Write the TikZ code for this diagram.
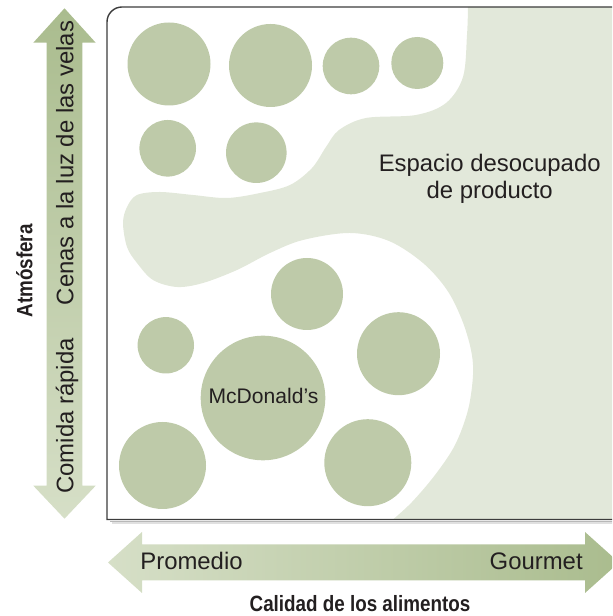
\documentclass[tikz,border=0pt]{standalone}
\usepackage{fontspec}
\setmainfont{Liberation Sans}
\newfontfamily\axisfont[FakeStretch=0.85]{Liberation Sans}
\usetikzlibrary{calc}

\definecolor{rivalgreen}{RGB}{190,202,169}
\definecolor{gapgreen}{RGB}{226,232,218}
\definecolor{arrowdark}{RGB}{170,188,142}
\definecolor{arrowlight}{RGB}{214,223,199}
\definecolor{inkgray}{RGB}{35,31,32}
\definecolor{framegray}{RGB}{60,60,60}

\begin{document}
\begin{tikzpicture}[scale=0.2,
  rival/.style={fill=rivalgreen},
  pole/.style={font=\fontsize{13.6}{15.1}\selectfont, text=inkgray, inner sep=0pt},
  axistitle/.style={font=\axisfont\bfseries\fontsize{12.6}{15}\selectfont, text=inkgray, inner sep=0pt}]
\useasboundingbox (0,0) rectangle (61.2,61.6);
\clip (0,0) rectangle (61.2,61.6);

\fill[gapgreen] plot[smooth, tension=0.55] coordinates {
  (46.8,60.9) (46.7,58.1) (46.3,53.9) (44.6,51.3) (41.6,50.1) (36.6,49.8)
  (33.9,48.6) (32.6,46.9) (31.2,44.8) (29.0,43.1) (26.0,42.3) (22.7,41.8)
  (19.3,42.1) (16.0,42.4) (13.7,42.1) (12.7,40.9) (12.3,39.3) (12.7,36.9)
  (13.7,35.3) (15.3,33.6) (17.7,32.9) (20.3,33.3) (23.7,34.6) (27.0,36.3)
  (30.3,37.6) (35.0,38.3) (38.9,37.5) (42.3,35.3) (44.7,32.6) (46.2,29.6)
  (47.1,26.6) (47.3,24.1) (46.8,20.6) (45.5,17.1) (43.5,14.1) (41.2,11.4)
  (39.3,9.65)} -- (62,9.65) -- (62,60.9) -- cycle;

\foreach \cx/\cy/\r in {16.9/55.2/4.15, 27.05/55.05/4.15, 35.1/55.0/2.83,
    41.73/55.3/2.6, 16.77/46.77/2.83, 25.63/46.33/3.03, 30.7/32.2/3.6,
    16.58/27.07/2.82, 16.25/15.05/4.35, 39.85/26.23/4.15, 36.78/15.33/4.35}
  \fill[rival] (\cx,\cy) circle (\r);
\fill[rival] (26.3,21.8) circle (6.23);

\draw[black!28, line width=1pt] (11.0,9.45) -- (62,9.45);
\draw[black!12, line width=1pt] (11.2,9.28) -- (62,9.28);
\draw[framegray, line width=0.8pt] (62,60.9) -- (12.2,60.9)
  arc[start angle=90, end angle=180, radius=1.5] -- (10.7,9.65) -- (62,9.65);

\shade[top color=arrowdark, bottom color=arrowlight] (6.45,60.77) -- (9.57,57.33)
  -- (8.23,57.33) -- (8.23,13.03) -- (9.57,13.03) -- (6.45,9.73) -- (3.33,13.03)
  -- (4.67,13.03) -- (4.67,57.33) -- (3.33,57.33) -- cycle;
\shade[left color=arrowlight, right color=arrowdark] (10.8,5.35) -- (14.2,8.4)
  -- (14.2,7.15) -- (58.5,7.15) -- (58.5,8.4) -- (61.9,5.35) -- (58.5,2.3)
  -- (58.5,3.55) -- (14.2,3.55) -- (14.2,2.3) -- cycle;

\node[pole, font=\fontsize{12}{14}\selectfont, anchor=base] (mcd) at (26.35,21.23) {McDonald’s};
\node[pole, align=center] (gap) at (48.97,43.72) {Espacio desocupado\\de producto};
\node[pole, rotate=90, anchor=base] (candle) at (7.33,45.3) {Cenas a la luz de las velas};
\node[pole, rotate=90, anchor=base] (fast) at (7.33,20.0) {Comida rápida};
\node[axistitle, rotate=90, anchor=base] (atmos) at (3.23,34.5) {Atmósfera};
\node[pole, anchor=base west] (avg) at (14.0,4.6) {Promedio};
\node[pole, anchor=base east] (gourmet) at (58.3,4.6) {Gourmet};
\node[axistitle, anchor=base] (quality) at (36.0,0.4) {Calidad de los alimentos};
\end{tikzpicture}
\end{document}
